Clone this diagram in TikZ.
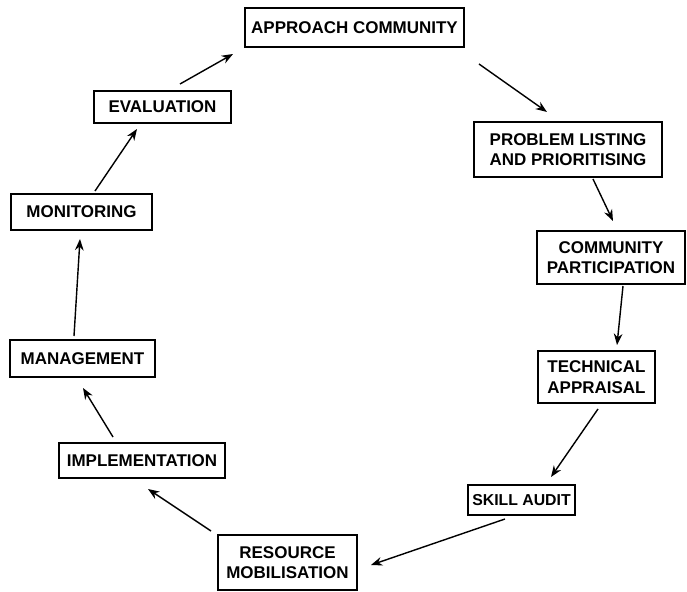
\documentclass[tikz,border=0pt]{standalone}
\usepackage{fontspec}
\setsansfont{Liberation Sans}
\usepackage{tikz}
\usetikzlibrary{arrows.meta}
\tikzset{
  box/.style  = {draw, line width=1.7pt, align=center, inner sep=0pt,
                 font=\sffamily\bfseries\fontsize{14.5}{17.5}\selectfont},
  flow/.style = {-{Stealth[length=3.4mm,width=2.6mm]}, line width=1.2pt},
}

\begin{document}
\begin{tikzpicture}[x=0.03cm, y=-0.03cm]
  \useasboundingbox (0,0) rectangle (687,592);
  % boxes round the cycle, placed at pixel positions
  \node[box, minimum width=6.57cm, minimum height=1.17cm] (appr)  at (354.5,27.5) {APPROACH COMMUNITY};
  \node[box, minimum width=5.64cm, minimum height=1.65cm] (prob)  at (568,149.5)  {PROBLEM LISTING\\AND PRIORITISING};
  \node[box, minimum width=4.44cm, minimum height=1.59cm] (comm)  at (611,257.5)  {COMMUNITY\\PARTICIPATION};
  \node[box, minimum width=3.51cm, minimum height=1.56cm] (tech)  at (596.5,377)  {TECHNICAL\\APPRAISAL};
  \node[box, minimum width=3.21cm, minimum height=0.90cm,
        font=\sffamily\bfseries\fontsize{13.5}{17}\selectfont] (skill) at (521.5,500) {SKILL AUDIT};
  \node[box, minimum width=4.17cm, minimum height=1.65cm] (res)   at (287.5,562.5) {RESOURCE\\MOBILISATION};
  \node[box, minimum width=4.98cm, minimum height=1.05cm] (impl)  at (142,460.5)  {IMPLEMENTATION};
  \node[box, minimum width=4.35cm, minimum height=1.11cm] (mgmt)  at (82.5,358.5) {MANAGEMENT};
  \node[box, minimum width=4.23cm, minimum height=1.08cm] (mon)   at (81.5,212)   {MONITORING};
  \node[box, minimum width=4.11cm, minimum height=0.96cm] (eval)  at (162.5,107)  {EVALUATION};

  % arrows, clockwise
  \draw[flow] ([shift={(14,16)}]appr.south east) -- ([shift={(-21,-9)}]prob.north);
  \draw[flow] ([shift={(25,1)}]prob.south) -- ([shift={(2,-9)}]comm.north);
  \draw[flow] ([shift={(12,1)}]comm.south) -- ([shift={(20.5,-5)}]tech.north);
  \draw[flow] ([shift={(1.5,5)}]tech.south) -- ([shift={(29.5,-7)}]skill.north);
  \draw[flow] ([shift={(-16.5,3)}]skill.south) -- ([shift={(13,2.5)}]res.east);
  \draw[flow] ([shift={(-6,-3)}]res.north west) -- ([shift={(6,10)}]impl.south);
  \draw[flow] ([shift={(-29,-5)}]impl.north) -- ([shift={(0.5,10)}]mgmt.south);
  \draw[flow] ([shift={(-8.5,-3)}]mgmt.north) -- ([shift={(-1.5,8)}]mon.south);
  \draw[flow] ([shift={(13.5,-2)}]mon.north) -- ([shift={(-25.5,5)}]eval.south);
  \draw[flow] ([shift={(17.5,-6)}]eval.north) -- ([shift={(-11,6)}]appr.south west);
\end{tikzpicture}
\end{document}
